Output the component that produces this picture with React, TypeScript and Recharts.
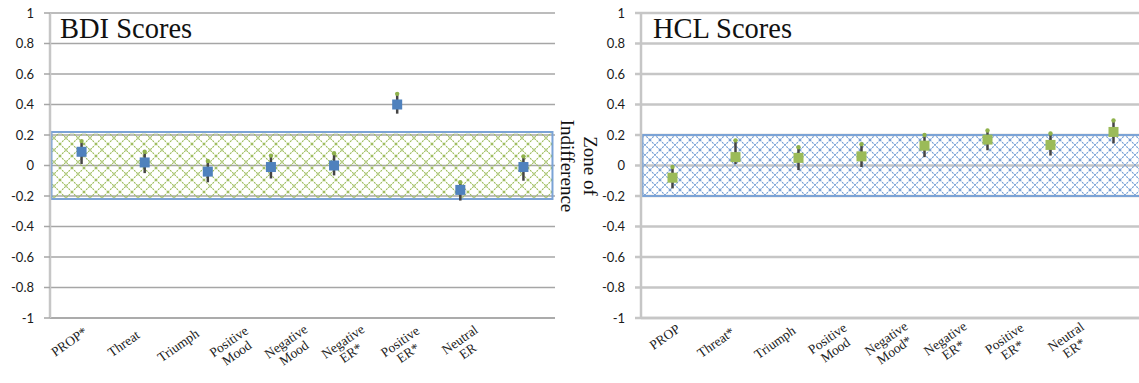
import React from 'react';
import {
  ComposedChart,
  Scatter,
  ErrorBar,
  XAxis,
  YAxis,
  CartesianGrid,
  ReferenceArea
} from 'recharts';

// BDI panel
const BDI_CATEGORIES = ['PROP*', 'Threat', 'Triumph', 'Positive\nMood', 'Negative\nMood', 'Negative\nER*', 'Positive\nER*', 'Neutral\nER'];
const BDI_VALUES = [0.09, 0.02, -0.04, -0.01, 0.0, 0.4, -0.16, -0.01];
const BDI_ERR_LOW = [0.08, 0.07, 0.07, 0.075, 0.065, 0.06, 0.07, 0.09];
const BDI_ERR_HIGH = [0.07, 0.07, 0.07, 0.075, 0.08, 0.07, 0.05, 0.07];
const BDI_ZONE = 0.22;

// HCL panel
const HCL_CATEGORIES = ['PROP', 'Threat*', 'Triumph', 'Positive\nMood', 'Negative\nMood*', 'Negative\nER*', 'Positive\nER*', 'Neutral\nER*'];
const HCL_VALUES = [-0.08, 0.055, 0.05, 0.06, 0.13, 0.17, 0.135, 0.22];
const HCL_ERR_LOW = [0.07, 0.045, 0.08, 0.07, 0.075, 0.07, 0.07, 0.075];
const HCL_ERR_HIGH = [0.07, 0.11, 0.07, 0.08, 0.07, 0.06, 0.075, 0.075];
const HCL_ZONE = 0.2;

const Y_TICKS = [-1, -0.8, -0.6, -0.4, -0.2, 0, 0.2, 0.4, 0.6, 0.8, 1];

const SERIF = "'Liberation Serif', 'Times New Roman', serif";
const BLUE = '#4f81bd';
const GREEN = '#9bbb59';

const buildRows = (cats: string[], vals: number[], low: number[], high: number[]) =>
  cats.map((name, i) => ({
    name,
    value: vals[i],
    err: [low[i], high[i]],
    top: vals[i] + high[i]
  }));

const makeTick = (drift0: number, driftStep: number, dy: number) => (props: any) => {
  const { x, y, payload, index } = props;
  const lines = String(payload.value).split('\n');
  const n = lines.length;
  const lh = 14;
  const longest = Math.max(...lines.map((l) => l.length));
  const half = longest * 3.2;
  const ax = x + drift0 + driftStep * index;
  const ay = y + dy;
  return (
    <g transform={`translate(${ax},${ay}) rotate(-35)`}>
      {lines.map((line, i) => (
        <text
          key={i}
          x={-half}
          y={(i - (n - 1) / 2) * lh + 4}
          textAnchor="middle"
          fontFamily={SERIF}
          fontSize={13.5}
          fill="#222"
        >
          {line}
        </text>
      ))}
    </g>
  );
};

interface PanelProps {
  rows: any[];
  left: number;
  width: number;
  yAxisWidth: number;
  markerColor: string;
  patternId: string;
  hatchColor: string;
  hatchSize: number;
  zone: number;
  gridStroke: string;
  gridWidth: number;
  tick: (p: any) => React.ReactElement;
}

const Panel: React.FC<PanelProps> = ({
  rows,
  left,
  width,
  yAxisWidth,
  markerColor,
  patternId,
  hatchColor,
  hatchSize,
  zone,
  gridStroke,
  gridWidth,
  tick
}) => {
  const plotWidth = width - yAxisWidth - 5;
  const pad = plotWidth / rows.length / 2;
  const last = rows.length - 1;
  return (
    <div style={{ position: 'absolute', left, top: 0 }}>
      <ComposedChart width={width} height={383} data={rows} margin={{ top: 13, right: 5, left: 0, bottom: 35 }}>
        <defs>
          <pattern id={patternId} width={hatchSize} height={hatchSize} patternUnits="userSpaceOnUse">
            <path
              d={`M0,0 L${hatchSize},${hatchSize} M${hatchSize},0 L0,${hatchSize}`}
              stroke={hatchColor}
              strokeWidth={1.1}
              strokeDasharray="2 1"
            />
          </pattern>
        </defs>
        <CartesianGrid vertical={false} stroke={gridStroke} strokeWidth={gridWidth} />
        <XAxis
          dataKey="name"
          type="category"
          height={30}
          padding={{ left: pad, right: pad }}
          tickLine={false}
          tickSize={0}
          tickMargin={0}
          interval={0}
          axisLine={{ stroke: gridStroke, strokeWidth: gridWidth }}
          tick={tick}
        />
        {/* full-width helper axis so the zone box spans the whole plot */}
        <XAxis xAxisId="full" type="number" domain={[0, last]} hide allowDataOverflow />
        <YAxis
          type="number"
          domain={[-1, 1]}
          ticks={Y_TICKS}
          interval={0}
          width={yAxisWidth}
          tickSize={6}
          tickMargin={10}
          axisLine={{ stroke: '#c6c6c6', strokeWidth: 2.5 }}
          tickLine={{ stroke: gridStroke, strokeWidth: gridWidth }}
          tick={{ fontFamily: 'Lato, sans-serif', fontSize: 13, fill: '#1a1a1a' }}
        />
        <ReferenceArea
          xAxisId="full"
          x1={last * 0.003}
          x2={last * 0.995}
          y1={-zone}
          y2={zone}
          fill={`url(#${patternId})`}
          fillOpacity={1}
          stroke="#7ba3d6"
          strokeWidth={2}
        />
        <Scatter
          dataKey="top"
          isAnimationActive={false}
          shape={(p: any) => <circle cx={p.cx} cy={p.cy} r={2.2} fill="#8fb24c" />}
        />
        <Scatter
          dataKey="value"
          isAnimationActive={false}
          shape={(p: any) => <rect x={p.cx - 5} y={p.cy - 5} width={10} height={10} fill={markerColor} />}
        >
          <ErrorBar dataKey="err" direction="y" width={0} stroke="#454545" strokeWidth={2.5} />
        </Scatter>
      </ComposedChart>
    </div>
  );
};

export default function App() {
  const bdiRows = buildRows(BDI_CATEGORIES, BDI_VALUES, BDI_ERR_LOW, BDI_ERR_HIGH);
  const hclRows = buildRows(HCL_CATEGORIES, HCL_VALUES, HCL_ERR_LOW, HCL_ERR_HIGH);

  return (
    <div
      style={{
        position: 'fixed',
        left: 0,
        top: 0,
        width: 1139,
        height: 383,
        overflow: 'hidden',
        background: '#fff'
      }}
    >
      <Panel
        rows={bdiRows}
        left={0}
        width={560}
        yAxisWidth={50}
        markerColor={BLUE}
        patternId="hatchGreen"
        hatchColor={GREEN}
        hatchSize={12}
        zone={BDI_ZONE}
        gridStroke="#a6a6a6"
        gridWidth={1.5}
        tick={makeTick(1, -6, 15)}
      />
      <Panel
        rows={hclRows}
        left={580}
        width={570}
        yAxisWidth={61}
        markerColor={GREEN}
        patternId="hatchBlue"
        hatchColor="#6f9bd3"
        hatchSize={10}
        zone={HCL_ZONE}
        gridStroke="#c6c6c6"
        gridWidth={2.5}
        tick={makeTick(3, -4, 12)}
      />
      <svg
        width={1139}
        height={383}
        style={{ position: 'absolute', left: 0, top: 0, pointerEvents: 'none' }}
      >
        <text x={60} y={38} fontFamily={SERIF} fontSize={28.5} fill="#111">
          BDI Scores
        </text>
        <text x={653} y={38} fontFamily={SERIF} fontSize={28.5} fill="#111">
          HCL Scores
        </text>
        <g transform="translate(584,166) rotate(90)">
          <text x={0} y={0} textAnchor="middle" fontFamily={SERIF} fontSize={19} fill="#111">
            Zone of
          </text>
          <text x={0} y={23} textAnchor="middle" fontFamily={SERIF} fontSize={19} fill="#111">
            Indifference
          </text>
        </g>
      </svg>
    </div>
  );
}
